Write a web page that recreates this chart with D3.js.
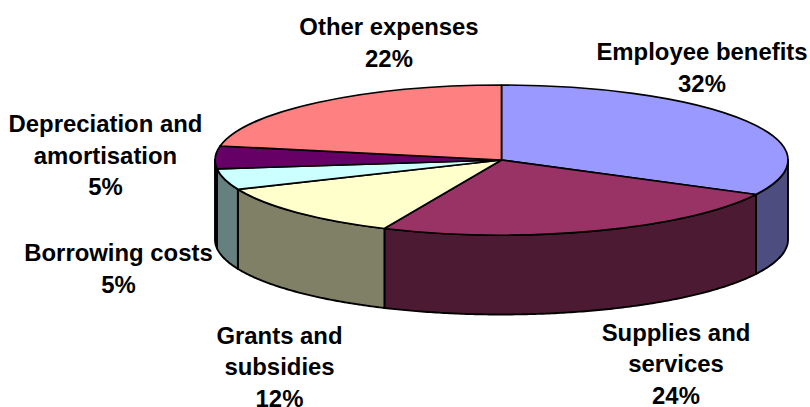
<!DOCTYPE html>
<html>
<head>
<meta charset="utf-8">
<script src="https://cdn.jsdelivr.net/npm/d3@7"></script>
<style>
html,body{margin:0;padding:0;background:#fff}
svg{display:block}
text{font-family:"Liberation Sans",Arial,sans-serif;font-weight:bold;font-size:23.9px;fill:#000;text-anchor:middle}
</style>
</head>
<body>
<svg id="c" width="810" height="407"></svg>
<script>
const categories = ["Employee benefits","Supplies and services","Grants and subsidies","Borrowing costs","Depreciation and amortisation","Other expenses"];
const values = [32.6,24.1,11.9,4.5,4.9,22.0];
const percentLabels = ["32%","24%","12%","5%","5%","22%"];
const topColors = ["#9999FF","#993366","#FFFFCC","#CCFFFF","#660066","#FF8080"];
const sideColors = ["#4D4D80","#4D1A33","#808066","#668080","#330033","#804040"];

const W=810,H=407,cx=501.5,cy=160,rx=286.5,ry=75,depth=79.5;
const labelLayout = [
  {x:702,y:60,lines:["Employee benefits"]},
  {x:676,y:340.5,lines:["Supplies and","services"]},
  {x:279.5,y:343.5,lines:["Grants and","subsidies"]},
  {x:118.5,y:261,lines:["Borrowing costs"]},
  {x:105.5,y:132,lines:["Depreciation and","amortisation"]},
  {x:389,y:35,lines:["Other expenses"]}
];
const lineH=31.7;

const svg=d3.select("#c");
const pie=d3.pie().sort(null).value(d=>d);
const arcs=pie(values);
const x=d3.scaleLinear().domain([-1,1]).range([cx-rx,cx+rx]);
const y=d3.scaleLinear().domain([-1,1]).range([cy-ry,cy+ry]);
const line=d3.line().x(d=>x(Math.sin(d[0]))).y(d=>y(-Math.cos(d[0]))+d[1]);

// visible side walls: front half of the ellipse only
const P=Math.PI;
arcs.forEach((a,i)=>{
  const s=Math.max(a.startAngle,P/2), e=Math.min(a.endAngle,3*P/2);
  if(e<=s) return;
  const n=Math.ceil((e-s)/0.01);
  const ts=d3.range(n+1).map(k=>s+(e-s)*k/n);
  const pts=ts.map(t=>[t,0]).concat(ts.slice().reverse().map(t=>[t,depth]));
  svg.append("path").attr("d",line(pts)+"Z")
    .attr("fill",sideColors[i]).attr("stroke","#000").attr("stroke-width",1.9).attr("stroke-linejoin","round");
});

// top face
const arc=d3.arc().innerRadius(0).outerRadius(1);
svg.append("g").attr("transform",`translate(${cx},${cy}) scale(${rx},${ry})`)
  .selectAll("path").data(arcs).join("path")
  .attr("d",arc)
  .attr("fill",(d,i)=>topColors[i])
  .attr("stroke","#000").attr("stroke-width",1.7).attr("stroke-linejoin","round")
  .attr("vector-effect","non-scaling-stroke");

// labels
categories.forEach((c,i)=>{
  const l=labelLayout[i];
  const t=svg.append("text").attr("x",l.x).attr("y",l.y);
  l.lines.concat(percentLabels[i]).forEach((s,k)=>{
    t.append("tspan").attr("x",l.x).attr("y",l.y+k*lineH).text(s);
  });
});
</script>
</body>
</html>
